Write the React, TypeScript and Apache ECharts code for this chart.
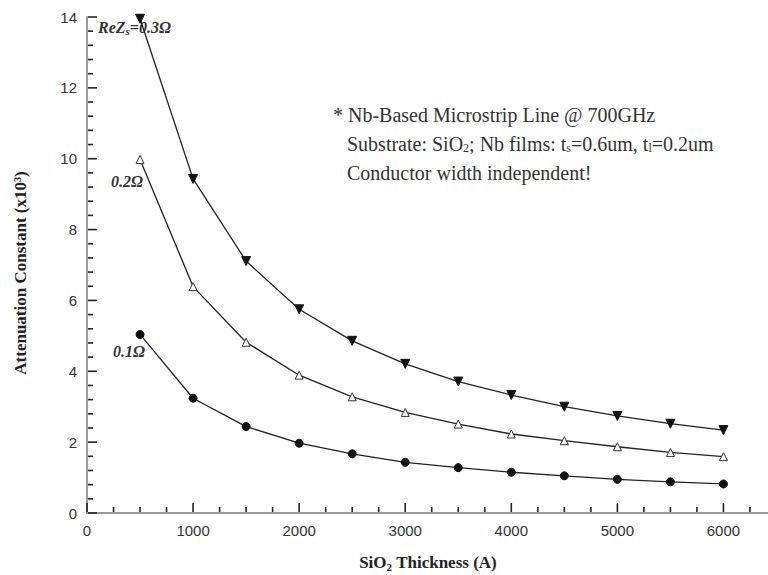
import React, { useEffect, useRef } from "react";
import * as echarts from "echarts";

const thickness = [500, 1000, 1500, 2000, 2500, 3000, 3500, 4000, 4500, 5000, 5500, 6000];
const atten03 = [13.95, 9.43, 7.11, 5.75, 4.86, 4.21, 3.71, 3.33, 3.0, 2.74, 2.52, 2.34];
const atten02 = [9.98, 6.39, 4.82, 3.89, 3.28, 2.84, 2.51, 2.23, 2.04, 1.87, 1.71, 1.59];
const atten01 = [5.04, 3.24, 2.44, 1.97, 1.67, 1.43, 1.28, 1.15, 1.05, 0.95, 0.88, 0.82];
const yTicks = [0, 2, 4, 6, 8, 10, 12, 14];
const xTickLabels = [0, 1000, 2000, 3000, 4000, 5000, 6000];
const xMinorTicks = [250, 500, 750, 1250, 1500, 1750, 2250, 2500, 2750, 3250, 3500, 3750, 4250, 4500, 4750, 5250, 5500, 5750, 6250];
const yMinorTicks = [
  0.4, 0.8, 1.2, 1.6, 2.4, 2.8, 3.2, 3.6, 4.4, 4.8, 5.2, 5.6, 6.4, 6.8, 7.2, 7.6,
  8.4, 8.8, 9.2, 9.6, 10.4, 10.8, 11.2, 11.6, 12.4, 12.8, 13.2, 13.6,
];

const serif = "'Liberation Serif', 'Times New Roman', serif";
const sans = "'Liberation Sans', Arial, sans-serif";
const TICK = "#222";

export default function App() {
  const ref = useRef<HTMLDivElement>(null);
  useEffect(() => {
    if (!ref.current) return;
    const chart = echarts.init(ref.current, null, { renderer: "svg" });
    const pts = (ys: number[]) => thickness.map((x, i) => [x, ys[i]]);
    const xTickData = [
      ...xTickLabels.map((v) => [v, 9]),
      ...xMinorTicks.map((v) => [v, 5]),
    ];
    const yTickData = [
      ...yTicks.map((v) => [9, v]),
      ...yMinorTicks.map((v) => [5, v]),
    ];
    chart.setOption({
      animation: false,
      grid: { left: 87, top: 17, right: 0, bottom: 62, containLabel: false, outerBoundsMode: "none" },
      xAxis: {
        type: "value",
        min: 0,
        max: 6420,
        interval: 1000,
        axisLine: { show: true, lineStyle: { color: "#999", width: 2 } },
        axisTick: { show: false },
        axisLabel: {
          margin: 10,
          fontFamily: sans,
          fontSize: 15,
          color: "#333",
          formatter: (v: number) => (xTickLabels.includes(v) ? String(v) : ""),
        },
        splitLine: { show: false },
      },
      yAxis: {
        type: "value",
        min: 0,
        max: 14,
        interval: 2,
        axisLine: { show: true, lineStyle: { color: "#999", width: 2 } },
        axisTick: { show: false },
        axisLabel: {
          margin: 10,
          fontFamily: sans,
          fontSize: 15,
          color: "#333",
          formatter: (v: number) => (yTicks.includes(v) ? String(v) : ""),
        },
        splitLine: { show: false },
      },
      series: [
        {
          type: "custom",
          silent: true,
          clip: false,
          z: 5,
          data: xTickData,
          encode: { x: 0, y: 1 },
          renderItem: (params: any, api: any) => {
            const p = api.coord([api.value(0), 0]);
            const len = api.value(1);
            return {
              type: "line",
              shape: { x1: p[0], y1: p[1] - 1, x2: p[0], y2: p[1] - 1 - len },
              style: { stroke: TICK, lineWidth: 1.6 },
            };
          },
        },
        {
          type: "custom",
          silent: true,
          clip: false,
          z: 5,
          data: yTickData,
          encode: { x: 0, y: 1 },
          renderItem: (params: any, api: any) => {
            const p = api.coord([0, api.value(1)]);
            const len = api.value(0);
            return {
              type: "line",
              shape: { x1: p[0] + 1, y1: p[1], x2: p[0] + 1 + len, y2: p[1] },
              style: { stroke: TICK, lineWidth: 1.6 },
            };
          },
        },
        {
          name: "0.3",
          type: "line",
          data: pts(atten03),
          clip: false,
          symbol: "triangle",
          symbolRotate: 180,
          symbolSize: 9,
          lineStyle: { color: "#222", width: 1.3 },
          itemStyle: { color: "#111", borderColor: "#111" },
        },
        {
          name: "0.2",
          type: "line",
          data: pts(atten02),
          symbol: "triangle",
          symbolSize: 8,
          lineStyle: { color: "#222", width: 1.3 },
          itemStyle: { color: "#fff", borderColor: "#333", borderWidth: 1 },
        },
        {
          name: "0.1",
          type: "line",
          data: pts(atten01),
          symbol: "circle",
          symbolSize: 8,
          lineStyle: { color: "#222", width: 1.3 },
          itemStyle: { color: "#111", borderColor: "#111" },
        },
      ],
      graphic: [
        {
          type: "text",
          x: 20,
          y: 273,
          rotation: Math.PI / 2,
          style: {
            text: "Attenuation Constant (x10³)",
            fontFamily: serif,
            fontWeight: "bold",
            fontSize: 17,
            fill: "#222",
            align: "center",
            verticalAlign: "middle",
          },
        },
        {
          type: "text",
          x: 428,
          y: 562,
          style: {
            text: "{b|SiO}{s|2}{b| Thickness (A)}",
            align: "center",
            verticalAlign: "middle",
            rich: {
              b: { fontFamily: serif, fontWeight: "bold", fontSize: 17, fill: "#222" },
              s: { fontFamily: serif, fontWeight: "bold", fontSize: 11, fill: "#222", padding: [9, 0, 0, 0] },
            },
          },
        },
        {
          type: "text",
          left: 98,
          top: 19,
          style: {
            text: "{i|ReZ}{s|s}{i|=0.3Ω}",
            rich: {
              i: { fontFamily: serif, fontStyle: "italic", fontWeight: "bold", fontSize: 16, fill: "#333" },
              s: { fontFamily: serif, fontStyle: "italic", fontWeight: "bold", fontSize: 11, fill: "#333", padding: [7, 0, 0, 0] },
            },
          },
        },
        {
          type: "text",
          left: 111,
          top: 173,
          style: { text: "0.2Ω", fontFamily: serif, fontStyle: "italic", fontWeight: "bold", fontSize: 16, fill: "#333" },
        },
        {
          type: "text",
          left: 113,
          top: 343,
          style: { text: "0.1Ω", fontFamily: serif, fontStyle: "italic", fontWeight: "bold", fontSize: 16, fill: "#333" },
        },
        {
          type: "text",
          left: 333,
          top: 105,
          style: { text: "* Nb-Based Microstrip Line @ 700GHz", fontFamily: serif, fontSize: 20, fill: "#333" },
        },
        {
          type: "text",
          left: 347,
          top: 134,
          style: {
            text: "{n|Substrate: SiO}{s|2}{n|; Nb films: t}{s|s}{n|=0.6um, t}{s|l}{n|=0.2um}",
            rich: {
              n: { fontFamily: serif, fontSize: 20, fill: "#333" },
              s: { fontFamily: serif, fontSize: 12, fill: "#333", padding: [8, 0, 0, 0] },
            },
          },
        },
        {
          type: "text",
          left: 347,
          top: 163,
          style: { text: "Conductor width independent!", fontFamily: serif, fontSize: 20, fill: "#333" },
        },
      ],
    });
    return () => chart.dispose();
  }, []);
  return (
    <div
      ref={ref}
      style={{ position: "absolute", left: 0, top: 0, width: 768, height: 575 }}
    />
  );
}
